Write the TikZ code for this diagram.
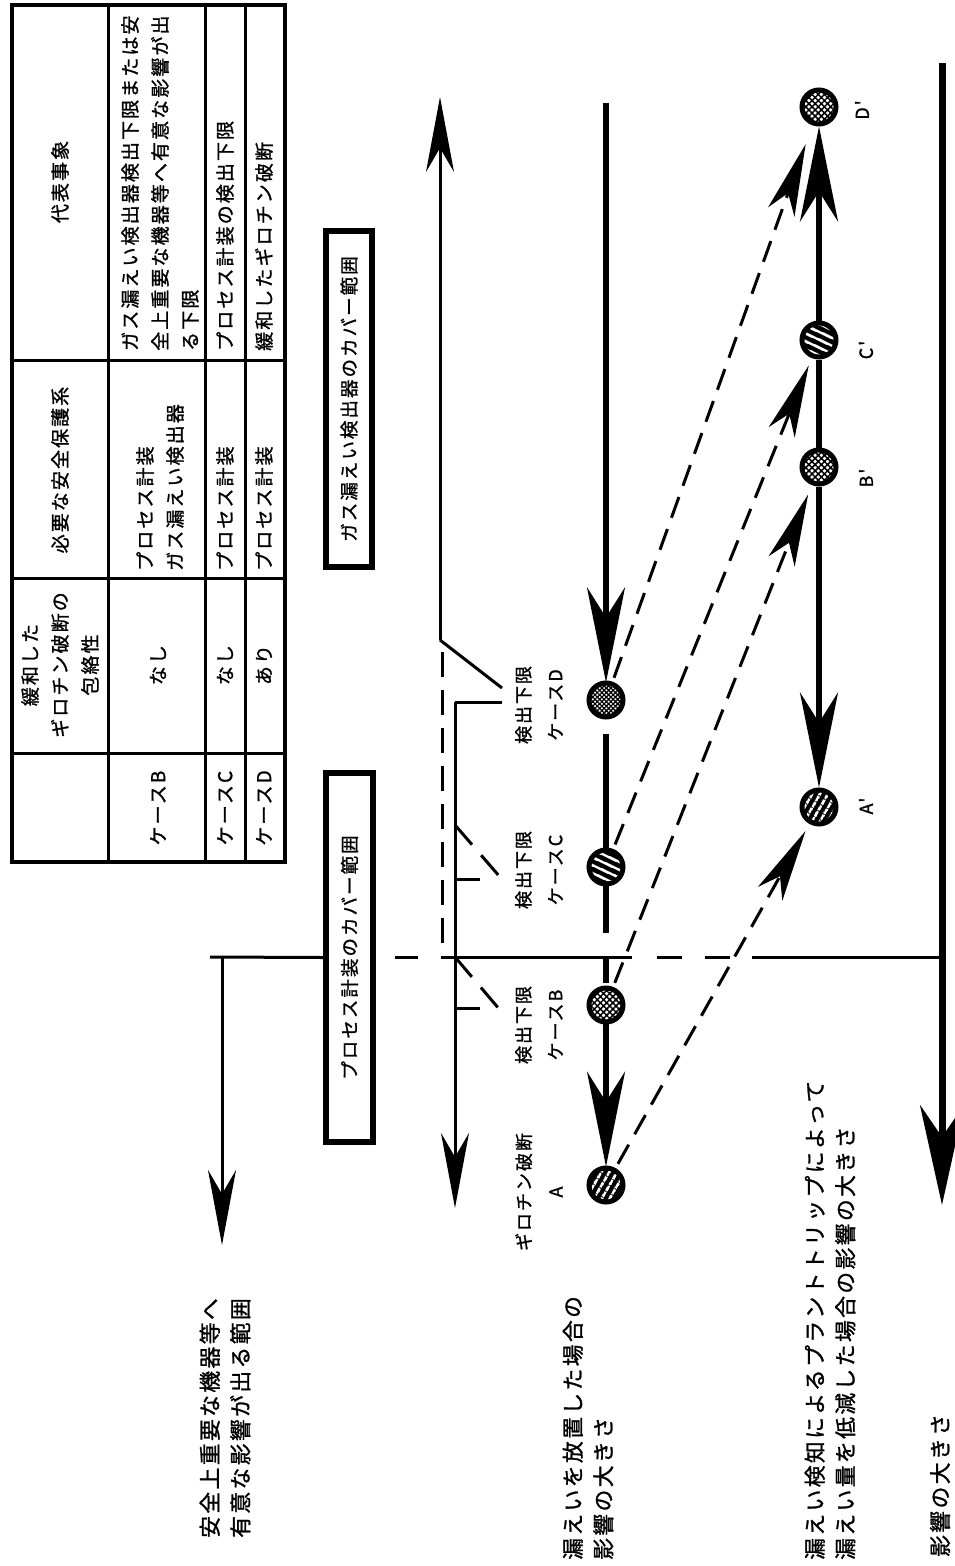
\documentclass[tikz,border=0pt]{standalone}
\usepackage{fontspec}
\newfontfamily\jp[LetterSpace=11,FakeBold=1.2]{Noto Sans CJK JP}
\usetikzlibrary{arrows.meta,patterns.meta}
\newcommand\fsT{\jp\fontsize{19}{30}\selectfont}
\newcommand\fsL{\jp\fontsize{21.8}{30.5}\selectfont}
\newcommand\fsB{\jp\fontsize{18.5}{30}\selectfont}
\newcommand\fsS{\jp\fontsize{18}{32}\selectfont}
\newcommand\fsP{\jp\fontsize{18}{20}\selectfont}
\begin{document}
\begin{tikzpicture}[x=1pt,y=-1pt,
  lnA/.style={line width=3pt},
  lnB/.style={line width=6pt},
  lnR/.style={line width=7pt},
  tb/.style={line width=3pt},
  arrA/.style={-{Stealth[length=75pt,width=28pt,inset=24pt]}},
  arrB/.style={-{Stealth[length=95pt,width=38pt,inset=30pt]}},
  arrR/.style={-{Stealth[length=100pt,width=44pt,inset=32pt]}},
  arrD/.style={-{Stealth[length=72pt,width=28pt,inset=20pt]}},
  dsh/.style={dash pattern=on 22pt off 12pt},
  rt/.style={rotate=90, inner sep=0pt},
  cbox/.style={rt, draw, line width=6pt, font=\fsB},
  cir/.style={circle, draw=black, line width=5pt, minimum size=34pt, inner sep=0pt},
  stA/.style={cir, preaction={fill=black}, pattern={Lines[angle=60,distance=6.5pt,line width=2.6pt]}, pattern color=white},
  stC/.style={cir, preaction={fill=black}, pattern={Lines[angle=-25,distance=6.5pt,line width=2.6pt]}, pattern color=white},
  hB/.style={cir, preaction={fill=white}, pattern={Hatch[angle=45,distance=4.4pt,line width=1.5pt]}, pattern color=black},
  hD/.style={cir, preaction={fill=white}, pattern={Hatch[angle=45,distance=3.2pt,line width=1.3pt]}, pattern color=black}
]
\fill[white] (0,0) rectangle (954,1566);
\useasboundingbox (0,0) rectangle (954,1566);

% ---------------- table
\draw[line width=3.5pt] (12,5) rectangle (285,862);
\draw[tb] (108,5)--(108,862) (205,5)--(205,862) (245,5)--(245,862)
          (12,360)--(285,360) (12,578)--(285,578) (12,753)--(285,753);
\node[rt, font=\fsT] (h1) at (60,182) {代表事象};
\node[rt, font=\fsT] (h2) at (60,470) {必要な安全保護系};
\node[rt, font=\fsT, align=center] (h3) at (60,665) {緩和した\\ギロチン破断の\\包絡性};
\node[rt, font=\fsT] (kB) at (158,808) {ケースB};
\node[rt, font=\fsT] (kC) at (225,808) {ケースC};
\node[rt, font=\fsT] (kD) at (264,808) {ケースD};
\node[rt, font=\fsT, anchor=west, align=left] (eB) at (160,351) {ガス漏えい検出器検出下限または安\\全上重要な機器等へ有意な影響が出\\る下限};
\node[rt, font=\fsT, anchor=west, align=left] (sB) at (160,571) {プロセス計装\\ガス漏えい検出器};
\node[rt, font=\fsT] (iB) at (158,665) {なし};
\node[rt, font=\fsT, anchor=west] (eC) at (225,351) {プロセス計装の検出下限};
\node[rt, font=\fsT, anchor=west] (sC) at (225,571) {プロセス計装};
\node[rt, font=\fsT] (iC) at (225,665) {なし};
\node[rt, font=\fsT, anchor=west] (eD) at (264,351) {緩和したギロチン破断};
\node[rt, font=\fsT, anchor=west] (sD) at (264,571) {プロセス計装};
\node[rt, font=\fsT] (iD) at (264,665) {あり};

% ---------------- cover boxes
\node[cbox, minimum width=336pt, minimum height=46pt] (bx1) at (349,399) {ガス漏えい検出器のカバー範囲};
\node[cbox, minimum width=369pt, minimum height=47pt] (bx2) at (349.5,957.5) {プロセス計装のカバー範囲};

% ---------------- big labels
\node[rt, font=\fsL, anchor=west, align=left] (L1) at (225,1538) {安全上重要な機器等へ\\有意な影響が出る範囲};
\node[rt, font=\fsL, anchor=west, align=left] (L2) at (588,1560) {漏えいを放置した場合の\\影響の大きさ};
\node[rt, font=\fsL, anchor=west, align=left] (L3) at (830,1560) {漏えい検知によるプラントトリップによって\\漏えい量を低減した場合の影響の大きさ};
\node[rt, font=\fsL, anchor=west] (L4) at (940,1557) {影響の大きさ};

% ---------------- case labels
\node[rt, font=\fsS, align=center] (lD) at (539,705) {検出下限\\ケースD};
\node[rt, font=\fsS, align=center] (lC) at (539,870) {検出下限\\ケースC};
\node[rt, font=\fsS, align=center] (lB) at (539,1025) {検出下限\\ケースB};
\node[rt, font=\fsS, align=center] (lA) at (539,1192) {ギロチン破断\\A};
\node[rt, font=\fsP] (pA) at (866,806) {A'};
\node[rt, font=\fsP] (pB) at (866,478) {B'};
\node[rt, font=\fsP] (pC) at (866,350) {C'};
\node[rt, font=\fsP] (pD) at (862,110) {D'};

% ---------------- circles
\node[stA] (A) at (606,1185) {};
\node[hB] (B) at (606,1005) {};
\node[stC] (C) at (606,867) {};
\node[hD] (D) at (606,700) {};
\node[stA] (Ap) at (819,807) {};
\node[hB] (Bp) at (819,467) {};
\node[stC] (Cp) at (819,340) {};
\node[hB] (Dp) at (819,107) {};

% ---------------- columns
\coordinate (t605) at (606,103);
\coordinate (g1) at (606,933);
\coordinate (g2) at (606,957);
\draw[lnB, arrB] (t605) -- (D);
\draw[lnB, shorten <=16pt] (D) -- (C);
\draw[lnB] (C) -- (g1);
\draw[lnB, shorten >=4pt] (g2) -- (B);
\draw[lnB, arrB] (B) -- (A);
\draw[lnB, arrB] (Cp) -- (Dp);
\draw[lnB] (Bp) -- (Cp);
\draw[lnB, arrB] (Bp) -- (Ap);

% ---------------- dashed arrows
\draw[lnA, dsh, arrD, shorten <=6pt, shorten >=8pt] (A) -- (Ap);
\draw[lnA, dsh, arrD, shorten <=6pt, shorten >=10pt] (B) -- (Bp);
\draw[lnA, dsh, arrD, shorten <=6pt, shorten >=8pt] (C) -- (Cp);
\draw[lnA, dsh, arrD, shorten <=6pt, shorten >=20pt] (D) -- (Dp);

% ---------------- right axis
\coordinate (r0) at (942,63);
\coordinate (r1) at (942,1205);
\draw[lnR, arrR] (r0) -- (r1);

% ---------------- left range arrow
\coordinate (hL) at (210,957);
\coordinate (vL1) at (222,957);
\coordinate (vL2) at (222,1245);
\draw[lnA] (hL) -- (bx2.north);
\draw[lnA, arrA] (vL1) -- (vL2);

% ---------------- main horizontal line
\coordinate (m1) at (395,957); \coordinate (m2) at (418,957);
\coordinate (m3) at (441,957); \coordinate (m4) at (632,957);
\coordinate (m5) at (657,957); \coordinate (m6) at (682,957);
\coordinate (m7) at (705,957); \coordinate (m8) at (730,957);
\coordinate (m9) at (752,957); \coordinate (m10) at (942,957);
\draw[lnA] (m1)--(m2) (m3)--(m4) (m5)--(m6) (m7)--(m8) (m9)--(m10);

% ---------------- detection limit lines
\coordinate (u0) at (440,640); \coordinate (u1) at (440,97);
\coordinate (d0) at (442,652); \coordinate (d1) at (442,950);
\coordinate (pDa) at (502,688);
\coordinate (qD) at (502,702); \coordinate (qD2) at (455,702); \coordinate (qE) at (455,1208);
\draw[lnA, arrA] (u0) -- (u1);
\draw[lnA, dash pattern=on 25pt off 13pt] (d0) -- (d1);
\draw[lnA] (u0) -- (pDa);
\draw[lnA] (qD) -- (qD2);
\draw[lnA, arrA] (qD2) -- (qE);
\coordinate (c0) at (455,825); \coordinate (c1) at (500,877);
\coordinate (c2) at (455,879); \coordinate (c3) at (480,879);
\draw[lnA, dash pattern=on 26pt off 14pt] (c0) -- (c1);
\draw[lnA] (c2) -- (c3);
\coordinate (b0) at (455,957); \coordinate (b1) at (500,1010);
\coordinate (b2) at (455,1008); \coordinate (b3) at (480,1008);
\draw[lnA, dash pattern=on 26pt off 14pt] (b0) -- (b1);
\draw[lnA] (b2) -- (b3);
\end{tikzpicture}
\end{document}
